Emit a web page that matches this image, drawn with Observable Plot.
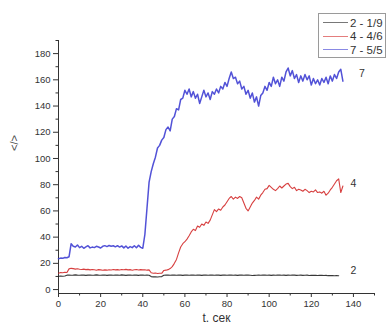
<!DOCTYPE html>
<html><head><meta charset="utf-8">
<script src="https://cdn.jsdelivr.net/npm/d3@7"></script>
<script src="https://cdn.jsdelivr.net/npm/@observablehq/plot@0.6"></script>
<style>
body{margin:0;background:#fff;font-family:"Liberation Sans",Arial,sans-serif}
#wrap{position:relative;width:388px;height:327px;overflow:hidden}
#legend{position:absolute;left:318px;top:13px;width:68px;height:45px;border:1px solid #9a9a9a;background:#fff;font-size:11.5px;color:#333;box-sizing:border-box;padding-top:2px}
.row{display:flex;align-items:center;height:13.5px;margin-left:4px;white-space:nowrap}
.sw{width:25px;height:1px;margin-right:2px;opacity:.6}
</style></head><body>
<div id="wrap"><div id="chart"></div><div id="legend"></div></div>
<script>
// time, s
const t = [0,1,2,3,4,5,6,7,8,9,10,11,12,13,14,15,16,17,18,19,20,21,22,23,24,25,26,27,28,29,30,31,32,33,34,35,36,37,38,39,40,41,42,43,44,45,46,47,48,49,50,51,52,53,54,55,56,57,58,59,60,61,62,63,64,65,66,67,68,69,70,71,72,73,74,75,76,77,78,79,80,81,82,83,84,85,86,87,88,89,90,91,92,93,94,95,96,97,98,99,100,101,102,103,104,105,106,107,108,109,110,111,112,113,114,115,116,117,118,119,120,121,122,123,124,125,126,127,128,129,130,131,132,133,134,135];
// series "2 - 1/9"
const s2 = [10.2,10.3,10.2,10.4,11,11.1,10.9,11,11.2,11,10.9,11.1,11,10.8,11,11.1,10.9,11,11.2,11,10.9,11,11.1,10.8,11,11,10.9,11.1,11,10.9,11.2,11,10.8,11,11.1,10.9,11,11,10.8,11.1,11,10.9,11,10.9,9.9,9.7,9.8,9.6,9.8,9.9,10.9,11,11.1,10.9,11,11.1,10.9,11,11,10.8,11,11.1,10.9,11,11,10.9,11.1,11,10.8,11,11.1,10.9,11,11,10.9,11.1,11,10.8,11,11,10.9,11.1,11,10.9,11,10.8,11,11.1,10.9,11,11,10.9,10.7,10.8,10.9,11,10.9,11,11.1,10.9,11,10.8,11,10.9,11,11.1,10.9,11,10.8,11,10.9,11,11,10.8,10.9,11,10.8,10.9,11,10.7,10.9,10.8,10.9,10.7,10.8,10.9,10.7,10.8,10.6,10.7,10.6,10.5,10.6,10.5];
// series "4 - 4/6"
const s4 = [12.5,13,12.8,13.2,13,15.8,16.2,16,15.6,15.9,15.5,15.3,15.6,15.2,15.4,15,15.3,15.1,14.8,15.2,15,14.7,15,14.8,15.1,14.9,15.3,15,15.2,14.9,15.3,15.1,15.4,15,15.2,14.8,15.1,15.3,14.9,15.2,15,15.1,14.8,15,12.8,12.5,12.6,12.3,12.5,12.4,14.6,14.8,15.2,16,17.5,20,23,28,32.5,35,36.5,38.5,41,44,46,45,48.5,47.5,50,49,51.5,50.5,53,57,61,59.5,61.5,60.5,63,64.5,67,69.5,71,69,70.5,69.5,71,70,66,62,60,63,66,68,70.5,69,72,74,76.5,77,79.5,78,76.5,75.5,77,79,77.5,79,80.5,81,78.5,77,78,75.5,76.5,76,75,76.5,75.5,74,75,74.5,76,74,74.5,73.5,75,72,73.5,76,78,80.5,83,84.5,74,79];
// series "7 - 5/5"
const s7 = [23.5,24,23.8,24.5,24.3,25,35,33,32.5,34,32,33,31.5,32.5,33.5,31.8,32.4,32,33,32.5,31.7,33,33.5,32.8,33.6,33,33.4,32.6,33.5,32.4,33.3,31.8,33.2,31.5,32.8,32,33.4,31.9,33.8,32.2,31.5,42,62,82,90,96,101,108,110,114,116,122,124,121,130,132,138,137,145,146,152,149,153,147,151,146,149,142,147,152,147,150,145,151,149,153,150,155,153,158,155,161,166,161,162,157,159,153,155,149,152,146,150,143,147,140,148,150,155,152,158,155,162,157,160,155,162,159,166,169,163,167,161,164,158,163,159,164,160,163,156,161,157,160,156,161,158,162,157,163,159,164,161,166,168,159];

const seriesNames = ["2 - 1/9", "4 - 4/6", "7 - 5/5"];
const seriesColors = ["#1e1e1e", "#d22626", "#3a3ad2"];
const curveLabels = ["7", "4", "2"];
const curveLabelX = [144, 140, 140];
const curveLabelY = [165, 80.5, 14.5];
const xTicks = [0, 20, 40, 60, 80, 100, 120, 140];
const xMinor = [10, 30, 50, 70, 90, 110, 130, 150];
const yTicks = [0, 20, 40, 60, 80, 100, 120, 140, 160, 180];
const yMinor = [10, 30, 50, 70, 90, 110, 130, 150, 170, 190];
const xDomain = [0, 150];
const yDomain = [-3, 190];
const xTitle = "t. сек";
const yTitle = "</>";

const allSeries = [s2, s4, s7];
const widths = [1.1, 1.1, 1.5];
const seriesRows = allSeries.map((s, k) => t.map((x, i) => ({x, y: s[i], k: seriesNames[k]})));
const labels = curveLabels.map((l, i) => ({l, x: curveLabelX[i], y: curveLabelY[i]}));

const chart = Plot.plot({
  width: 388, height: 327,
  marginLeft: 58, marginRight: 14, marginTop: 40, marginBottom: 34,
  style: {fontFamily: "Liberation Sans, Arial, sans-serif", fontSize: "9.5px", color: "#333", background: "#fff"},
  x: {domain: xDomain},
  y: {domain: yDomain},
  color: {domain: seriesNames, range: seriesColors},
  marks: [
    Plot.ruleX([xDomain[0]], {stroke: "#333", strokeWidth: 1}),
    Plot.ruleY([yDomain[0]], {stroke: "#333", strokeWidth: 1}),
    Plot.axisX({ticks: xTicks, tickSize: 4, tickPadding: 3, label: null, fontSize: 9.5}),
    Plot.axisX({ticks: [], label: xTitle, labelAnchor: "center", labelOffset: 28, labelArrow: "none", fontSize: 12}),
    Plot.axisX({ticks: xMinor, tickSize: 2.5, tickFormat: () => "", label: null}),
    Plot.axisY({ticks: yTicks, tickSize: 5, tickPadding: 3, label: null, fontSize: 9.5}),
    Plot.axisY({ticks: yMinor, tickSize: 2.5, tickFormat: () => "", label: null}),
    ...seriesRows.map((r, k) => Plot.line(r, {x: "x", y: "y", stroke: "k", strokeWidth: widths[k], strokeOpacity: 0.88})),
    Plot.text(labels, {x: "x", y: "y", text: "l", fontSize: 10.5, fill: "#333"}),
    Plot.text([yTitle], {frameAnchor: "left", dx: -44, dy: -16, rotate: -90, fontSize: 11, fill: "#444"})
  ]
});
document.getElementById("chart").appendChild(chart);

const legend = document.getElementById("legend");
seriesNames.forEach((n, i) => {
  const r = document.createElement("div"); r.className = "row";
  const sw = document.createElement("div"); sw.className = "sw"; sw.style.background = seriesColors[i];
  const tx = document.createElement("span"); tx.textContent = n;
  r.appendChild(sw); r.appendChild(tx); legend.appendChild(r);
});
</script></body></html>
